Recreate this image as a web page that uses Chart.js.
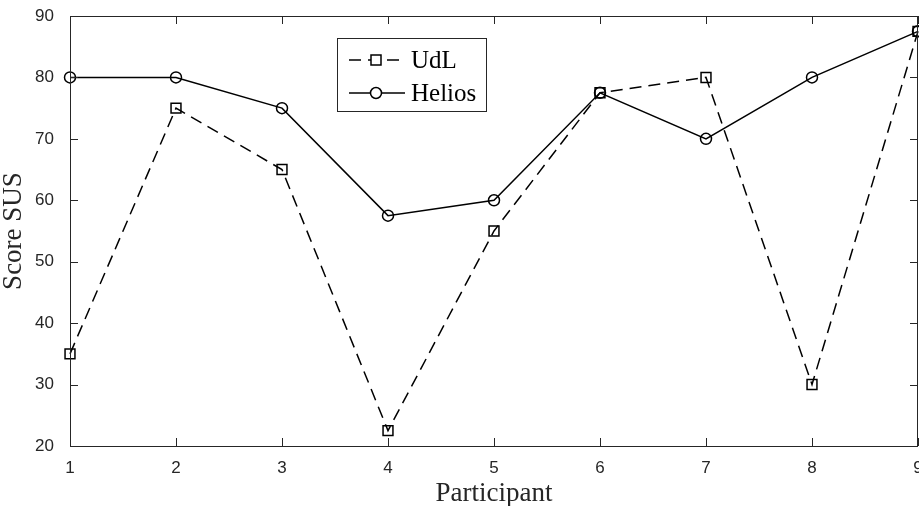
<!DOCTYPE html>
<html>
<head>
<meta charset="utf-8">
<script src="https://cdn.jsdelivr.net/npm/chart.js@4/dist/chart.umd.min.js"></script>
<style>
  html, body { margin: 0; padding: 0; background: #fff; }
  #wrap { width: 919px; height: 506px; position: relative; }
</style>
</head>
<body>
<div id="wrap"><canvas id="susChart"></canvas></div>
<script>
// Data
const participants = [1, 2, 3, 4, 5, 6, 7, 8, 9];
const udlScores = [35, 75, 65, 22.5, 55, 77.5, 80, 30, 87.5];
const heliosScores = [80, 80, 75, 57.5, 60, 77.5, 70, 80, 87.5];
const yTicks = [20, 30, 40, 50, 60, 70, 80, 90];

const axisColor = '#262626';
const serif = '"Liberation Serif", "Times New Roman", serif';
const sans = '"Liberation Sans", Arial, sans-serif';

// box + inward ticks on all four sides, matlab style, and the legend
const boxPlugin = {
  id: 'boxPlugin',
  afterDraw(chart) {
    const ctx = chart.ctx;
    const a = chart.chartArea;
    const xs = chart.scales.x, ys = chart.scales.y;
    ctx.save();
    ctx.strokeStyle = axisColor;
    ctx.lineWidth = 1;
    ctx.setLineDash([]);
    ctx.strokeRect(a.left + 0.5, a.top + 0.5, a.right - a.left - 1, a.bottom - a.top);
    const len = 8;
    ctx.beginPath();
    participants.forEach(v => {
      const px = Math.round(xs.getPixelForValue(v)) + 0.5;
      ctx.moveTo(px, a.bottom); ctx.lineTo(px, a.bottom - len);
      ctx.moveTo(px, a.top); ctx.lineTo(px, a.top + len);
    });
    yTicks.forEach(v => {
      const py = Math.round(ys.getPixelForValue(v)) + 0.5;
      ctx.moveTo(a.left, py); ctx.lineTo(a.left + len, py);
      ctx.moveTo(a.right, py); ctx.lineTo(a.right - len, py);
    });
    ctx.stroke();

    // legend box inside the plot
    const lx = 337, ly = 38, lw = 149, lh = 73;
    ctx.fillStyle = '#fff';
    ctx.fillRect(lx, ly, lw, lh);
    ctx.strokeRect(lx + 0.5, ly + 0.5, lw, lh);
    ctx.font = '25px ' + serif;
    ctx.textBaseline = 'middle';
    chart.data.datasets.forEach((ds, i) => {
      const y = ly + 22 + i * 33;
      ctx.strokeStyle = '#000';
      ctx.lineWidth = 1.5;
      ctx.setLineDash(ds.borderDash || []);
      ctx.beginPath();
      ctx.moveTo(lx + 12, y); ctx.lineTo(lx + 68, y);
      ctx.stroke();
      ctx.setLineDash([]);
      ctx.beginPath();
      if (ds.pointStyle === 'rect') {
        ctx.rect(lx + 34, y - 5, 10, 10);
      } else {
        ctx.arc(lx + 39, y, 5.5, 0, Math.PI * 2);
      }
      ctx.fillStyle = '#fff';
      ctx.fill();
      ctx.stroke();
      ctx.fillStyle = '#000';
      ctx.fillText(ds.label, lx + 74, y + 1);
    });
    ctx.restore();
  }
};

new Chart(document.getElementById('susChart'), {
  type: 'line',
  data: {
    labels: participants,
    datasets: [
      {
        label: 'UdL',
        data: participants.map((p, i) => ({ x: p, y: udlScores[i] })),
        borderColor: '#000',
        borderWidth: 1.5,
        borderDash: [12, 7],
        pointStyle: 'rect',
        pointRadius: 7,
        pointBorderColor: '#000',
        pointBackgroundColor: 'rgba(0,0,0,0)',
        pointBorderWidth: 1.5,
        tension: 0,
        clip: false
      },
      {
        label: 'Helios',
        data: participants.map((p, i) => ({ x: p, y: heliosScores[i] })),
        borderColor: '#000',
        borderWidth: 1.5,
        pointStyle: 'circle',
        pointRadius: 5.5,
        pointBorderColor: '#000',
        pointBackgroundColor: 'rgba(0,0,0,0)',
        pointBorderWidth: 1.5,
        tension: 0,
        clip: false
      }
    ]
  },
  options: {
    responsive: true,
    maintainAspectRatio: false,
    animation: false,
    layout: { autoPadding: false, padding: { top: 16, right: 1, left: 0, bottom: 0 } },
    plugins: {
      legend: { display: false },
      tooltip: { enabled: false }
    },
    scales: {
      x: {
        type: 'linear',
        min: 1,
        max: 9,
        afterBuildTicks: s => { s.ticks = participants.map(v => ({ value: v })); },
        afterFit: s => { s.height = 60; s.paddingLeft = 0; s.paddingRight = 0; },
        grid: { display: false },
        border: { display: false },
        ticks: {
          color: axisColor,
          font: { family: sans, size: 17 },
          padding: 4,
          maxRotation: 0
        },
        title: {
          display: true,
          text: 'Participant',
          color: axisColor,
          font: { family: serif, size: 27, lineHeight: 0.9 },
          padding: { top: 0, bottom: 0 }
        }
      },
      y: {
        min: 20,
        max: 90,
        afterBuildTicks: s => { s.ticks = yTicks.map(v => ({ value: v })); },
        afterFit: s => { s.width = 70; s.paddingTop = 0; s.paddingBottom = 0; },
        grid: { display: false },
        border: { display: false },
        ticks: {
          color: axisColor,
          font: { family: sans, size: 17 },
          padding: 8
        },
        title: {
          display: true,
          text: 'Score SUS',
          color: axisColor,
          font: { family: serif, size: 27, lineHeight: 1 },
          padding: { top: 0, bottom: 10 }
        }
      }
    }
  },
  plugins: [boxPlugin]
});
</script>
</body>
</html>
